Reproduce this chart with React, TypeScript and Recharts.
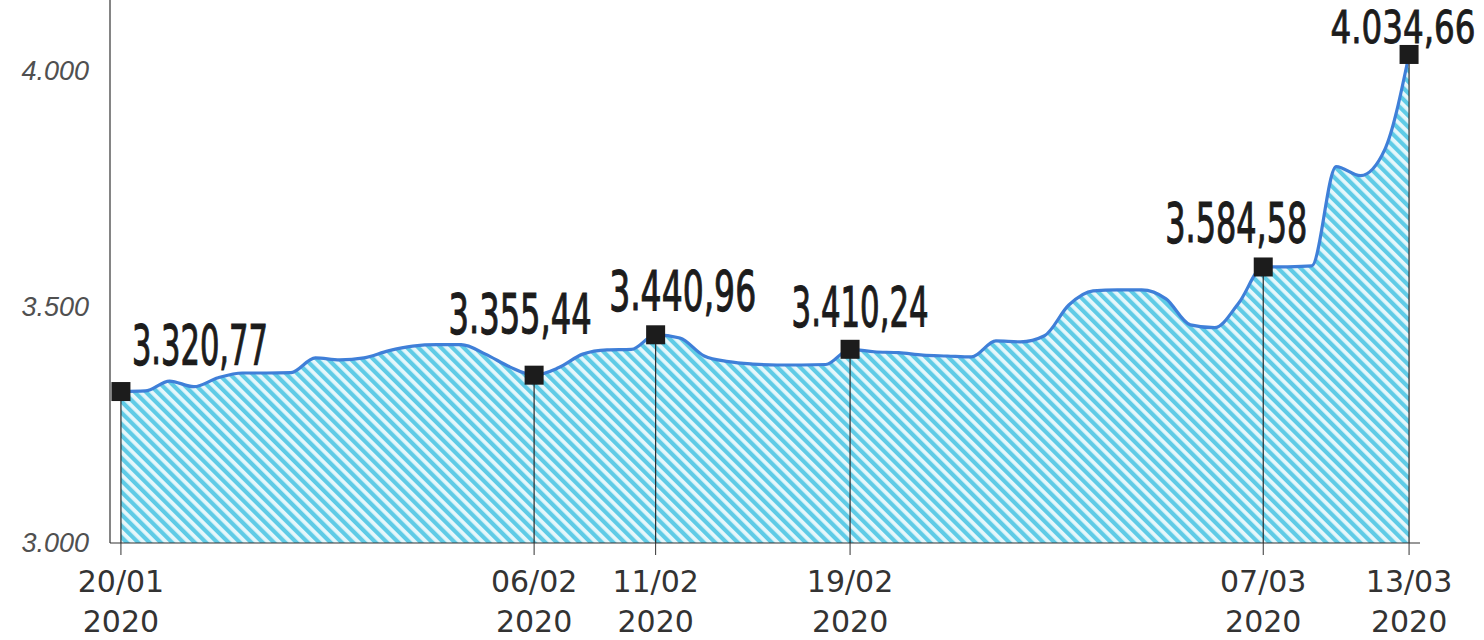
import React from "react";
import {
  ComposedChart,
  Area,
  XAxis,
  YAxis,
  ReferenceLine,
} from "recharts";

// day offsets counted from 20/01/2020
const DAYS = Array.from({ length: 54 }, (_, i) => i);

const VALUES = [
  3320.77, 3322, 3343, 3331, 3350, 3360, 3360, 3361, 3392, 3388,
  3392, 3407, 3417, 3420, 3420, 3400, 3373, 3355.44, 3371, 3400,
  3409, 3410, 3440.96, 3434, 3396, 3384, 3379, 3377, 3377, 3378,
  3410.24, 3405, 3403, 3398, 3396, 3394, 3428, 3426, 3439, 3504,
  3534, 3536, 3536, 3517, 3462, 3456, 3509, 3584.58, 3585, 3587,
  3797, 3778, 3833, 4034.66,
];

const MARKED_DAYS = [0, 17, 22, 30, 47, 53];
const MARKED_DATES = ["20/01", "06/02", "11/02", "19/02", "07/03", "13/03"];
const MARKED_LABELS = ["3.320,77", "3.355,44", "3.440,96", "3.410,24", "3.584,58", "4.034,66"];
const YEAR = "2020";

const Y_TICKS = [3000, 3500, 4000];
const Y_TICK_LABELS = ["3.000", "3.500", "4.000"];

const data = DAYS.map((d, i) => ({ d, v: VALUES[i] }));

// label placement around the square markers (w = drawn width, sy = vertical squash)
const LABEL_POS = [
  { anchor: "start", dx: 11, dy: -28, w: 136, sy: 1 },
  { anchor: "middle", dx: -14, dy: -42, w: 143, sy: 1 },
  { anchor: "middle", dx: 27, dy: -25, w: 147, sy: 1 },
  { anchor: "middle", dx: 10, dy: -23, w: 137, sy: 1 },
  { anchor: "middle", dx: -27, dy: -25, w: 142, sy: 1 },
  { anchor: "middle", dx: -6, dy: -11, w: 145, sy: 0.8 },
];
const LABEL_FONT = 55;
const LABEL_EM = 4.004; // approx. natural width of "d.ddd,dd" in condensed font, in em

const LINE = "#3f7fd8";
const INK = "#1c1c1c";

function MarkerDot(props: any) {
  const { cx, cy, payload } = props;
  const idx = MARKED_DAYS.indexOf(payload.d);
  if (idx < 0 || cx == null || cy == null) return <g key={`dot-${payload.d}`} />;
  const pos = LABEL_POS[idx];
  const left = pos.anchor === "start" ? cx + pos.dx : cx + pos.dx - pos.w / 2;
  const sx = pos.w / (LABEL_EM * LABEL_FONT);
  return (
    <g key={`dot-${payload.d}`}>
      <rect x={cx - 9.5} y={cy - 9.5} width={19} height={19} fill={INK} />
      <g transform={`translate(${left},${cy + pos.dy}) scale(${sx},${pos.sy})`}>
        <text
          x={0}
          y={0}
          fontFamily="'DejaVu Sans Condensed', 'Liberation Sans Narrow', sans-serif"
          fontSize={LABEL_FONT}
          fill={INK}
          stroke={INK}
          strokeWidth={1.1}
        >
          {MARKED_LABELS[idx]}
        </text>
      </g>
    </g>
  );
}

function DateTick(props: any) {
  const { x, y, payload } = props;
  const idx = MARKED_DAYS.indexOf(payload.value);
  return (
    <g transform={`translate(${x},${y})`}>
      <text
        textAnchor="middle"
        fontFamily="'DejaVu Sans', sans-serif"
        fontSize={30}
        fill="#333"
      >
        <tspan x={0} y={37}>{MARKED_DATES[idx]}</tspan>
        <tspan x={0} y={77}>{YEAR}</tspan>
      </text>
    </g>
  );
}

function ValueTick(props: any) {
  const { y, payload } = props;
  const idx = Y_TICKS.indexOf(payload.value);
  return (
    <text
      x={89}
      y={y}
      dy={9}
      textAnchor="end"
      fontFamily="'Liberation Sans', Arial, sans-serif"
      fontStyle="italic"
      fontSize={27}
      fill="#505050"
    >
      {Y_TICK_LABELS[idx]}
    </text>
  );
}

export default function App() {
  return (
    <div style={{ position: "absolute", left: 0, top: 0, width: 1484, height: 640, background: "#fff" }}>
      <ComposedChart
        width={1484}
        height={640}
        data={data}
        margin={{ top: 0, right: 64, bottom: 0, left: 0 }}
      >
        <defs>
          <pattern
            id="hatch"
            width="8"
            height="8"
            patternUnits="userSpaceOnUse"
            patternTransform="rotate(-45)"
          >
            <rect width="8" height="8" fill="#e6f7fb" />
            <rect width="4.2" height="8" fill="#5fcbe6" />
          </pattern>
        </defs>
        <XAxis
          dataKey="d"
          type="number"
          domain={[-0.45, 53.45]}
          ticks={MARKED_DAYS}
          tick={<DateTick />}
          tickSize={12}
          tickMargin={0}
          tickLine={{ stroke: "#333", strokeWidth: 1 }}
          axisLine={{ stroke: "#333", strokeWidth: 1.2 }}
          height={97}
          interval={0}
        />
        <YAxis
          type="number"
          domain={[3000, 4150]}
          ticks={Y_TICKS}
          tick={<ValueTick />}
          tickLine={false}
          axisLine={{ stroke: "#333", strokeWidth: 1.2 }}
          width={110}
          allowDataOverflow
        />
        <Area
          type="monotone"
          dataKey="v"
          stroke={LINE}
          strokeWidth={3.2}
          fill="url(#hatch)"
          fillOpacity={1}
          baseValue={3000}
          dot={false}
          activeDot={false}
          isAnimationActive={false}
        />
        {MARKED_DAYS.map((d) => (
          <ReferenceLine
            key={`drop-${d}`}
            segment={[
              { x: d, y: 3000 },
              { x: d, y: VALUES[d] },
            ]}
            stroke="#2a2a2a"
            strokeWidth={1.2}
          />
        ))}
        <Area
          type="monotone"
          dataKey="v"
          stroke="none"
          fill="none"
          dot={<MarkerDot />}
          activeDot={false}
          isAnimationActive={false}
        />
      </ComposedChart>
    </div>
  );
}
